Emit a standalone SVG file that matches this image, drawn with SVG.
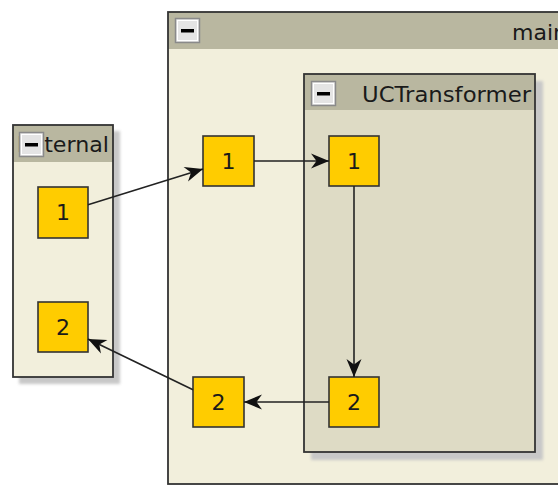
<svg xmlns="http://www.w3.org/2000/svg" width="558" height="485" viewBox="0 0 558 485">
  <defs>
    <filter id="soft" x="-10%" y="-10%" width="120%" height="120%">
      <feGaussianBlur stdDeviation="1.5"/>
    </filter>
    <marker id="arrow" markerUnits="userSpaceOnUse" markerWidth="22" markerHeight="18" viewBox="-20 -9 21 18" refX="0" refY="0" orient="auto">
      <path d="M0,0 L-18,-7.5 L-12.5,0 L-18,7.5 Z" fill="#111"/>
    </marker>
    <g id="collapse">
      <rect x="0.5" y="0.5" width="24" height="24" fill="#e4e4e4" stroke="#8a8a8a" stroke-width="1.5"/>
      <rect x="2.5" y="2.5" width="20" height="20" fill="none" stroke="#ffffff" stroke-width="1"/>
      <rect x="6" y="11" width="13" height="3.5" fill="#000"/>
    </g>
  </defs>
  <style>
    .frame { stroke: #333; stroke-width: 1.8; }
    .body { fill: #f2efdc; }
    .inner { fill: #dedbc5; }
    .head { fill: #b9b7a0; }
    .shadow { fill: #c8c8c8; filter: url(#soft); }
    .title { font-family: "DejaVu Sans", Verdana, sans-serif; font-size: 22px; fill: #1a1a1a; }
    .port rect { fill: #ffcc00; stroke: #333; stroke-width: 1.6; }
    .port text { font-family: "DejaVu Sans", Verdana, sans-serif; font-size: 22px; fill: #1a1a1a; text-anchor: middle; }
    .edge { stroke: #222; stroke-width: 1.6; fill: none; marker-end: url(#arrow); }
  </style>

  <rect width="558" height="485" fill="#ffffff"/>

  <!-- External container -->
  <g id="external">
    <rect class="shadow" x="19" y="131" width="101" height="253"/>
    <rect class="body" x="13" y="125" width="100" height="252"/>
    <rect class="head" x="13" y="125" width="100" height="37"/>
    <text class="title" x="17" y="152" textLength="92" lengthAdjust="spacingAndGlyphs">External</text>
    <use href="#collapse" x="19" y="132"/>
    <rect class="frame" x="13" y="125" width="100" height="252" fill="none"/>
  </g>

  <!-- main container -->
  <g id="main">
    <rect class="body" x="168" y="12" width="404" height="472"/>
    <rect class="head" x="168" y="12" width="404" height="37"/>
    <text class="title" x="512" y="40" textLength="55" lengthAdjust="spacingAndGlyphs">main</text>
    <use href="#collapse" x="175" y="18"/>
    <rect class="frame" x="168" y="12" width="404" height="472" fill="none"/>
  </g>

  <!-- UCTransformer container -->
  <g id="uctransformer">
    <rect class="shadow" x="311" y="81" width="232" height="379"/>
    <rect class="inner" x="304" y="74" width="231" height="378"/>
    <rect class="head" x="304" y="74" width="231" height="36"/>
    <text class="title" x="362" y="102" textLength="169" lengthAdjust="spacingAndGlyphs">UCTransformer</text>
    <use href="#collapse" x="311" y="81"/>
    <rect class="frame" x="304" y="74" width="231" height="378" fill="none"/>
  </g>

  <!-- ports -->
  <g id="ext-in-1" class="port">
    <rect x="38" y="187" width="50" height="51"/>
    <text x="63" y="220">1</text>
  </g>
  <g id="ext-out-2" class="port">
    <rect x="38" y="302" width="50" height="50"/>
    <text x="63" y="335">2</text>
  </g>
  <g id="main-in-1" class="port">
    <rect x="203" y="136" width="51" height="50"/>
    <text x="228.5" y="169">1</text>
  </g>
  <g id="main-out-2" class="port">
    <rect x="193" y="377" width="51" height="50"/>
    <text x="218.5" y="410">2</text>
  </g>
  <g id="uct-in-1" class="port">
    <rect x="329" y="136" width="50" height="50"/>
    <text x="354" y="169">1</text>
  </g>
  <g id="uct-out-2" class="port">
    <rect x="329" y="377" width="50" height="50"/>
    <text x="354" y="410">2</text>
  </g>

  <!-- connectors -->
  <g id="connectors">
    <line class="edge" x1="88" y1="204.7" x2="203" y2="168.9"/>
    <line class="edge" x1="254" y1="161" x2="329" y2="161"/>
    <line class="edge" x1="354" y1="186" x2="354" y2="377"/>
    <line class="edge" x1="329" y1="402" x2="244" y2="402"/>
    <line class="edge" x1="193" y1="389.7" x2="88" y2="339"/>
  </g>
</svg>
